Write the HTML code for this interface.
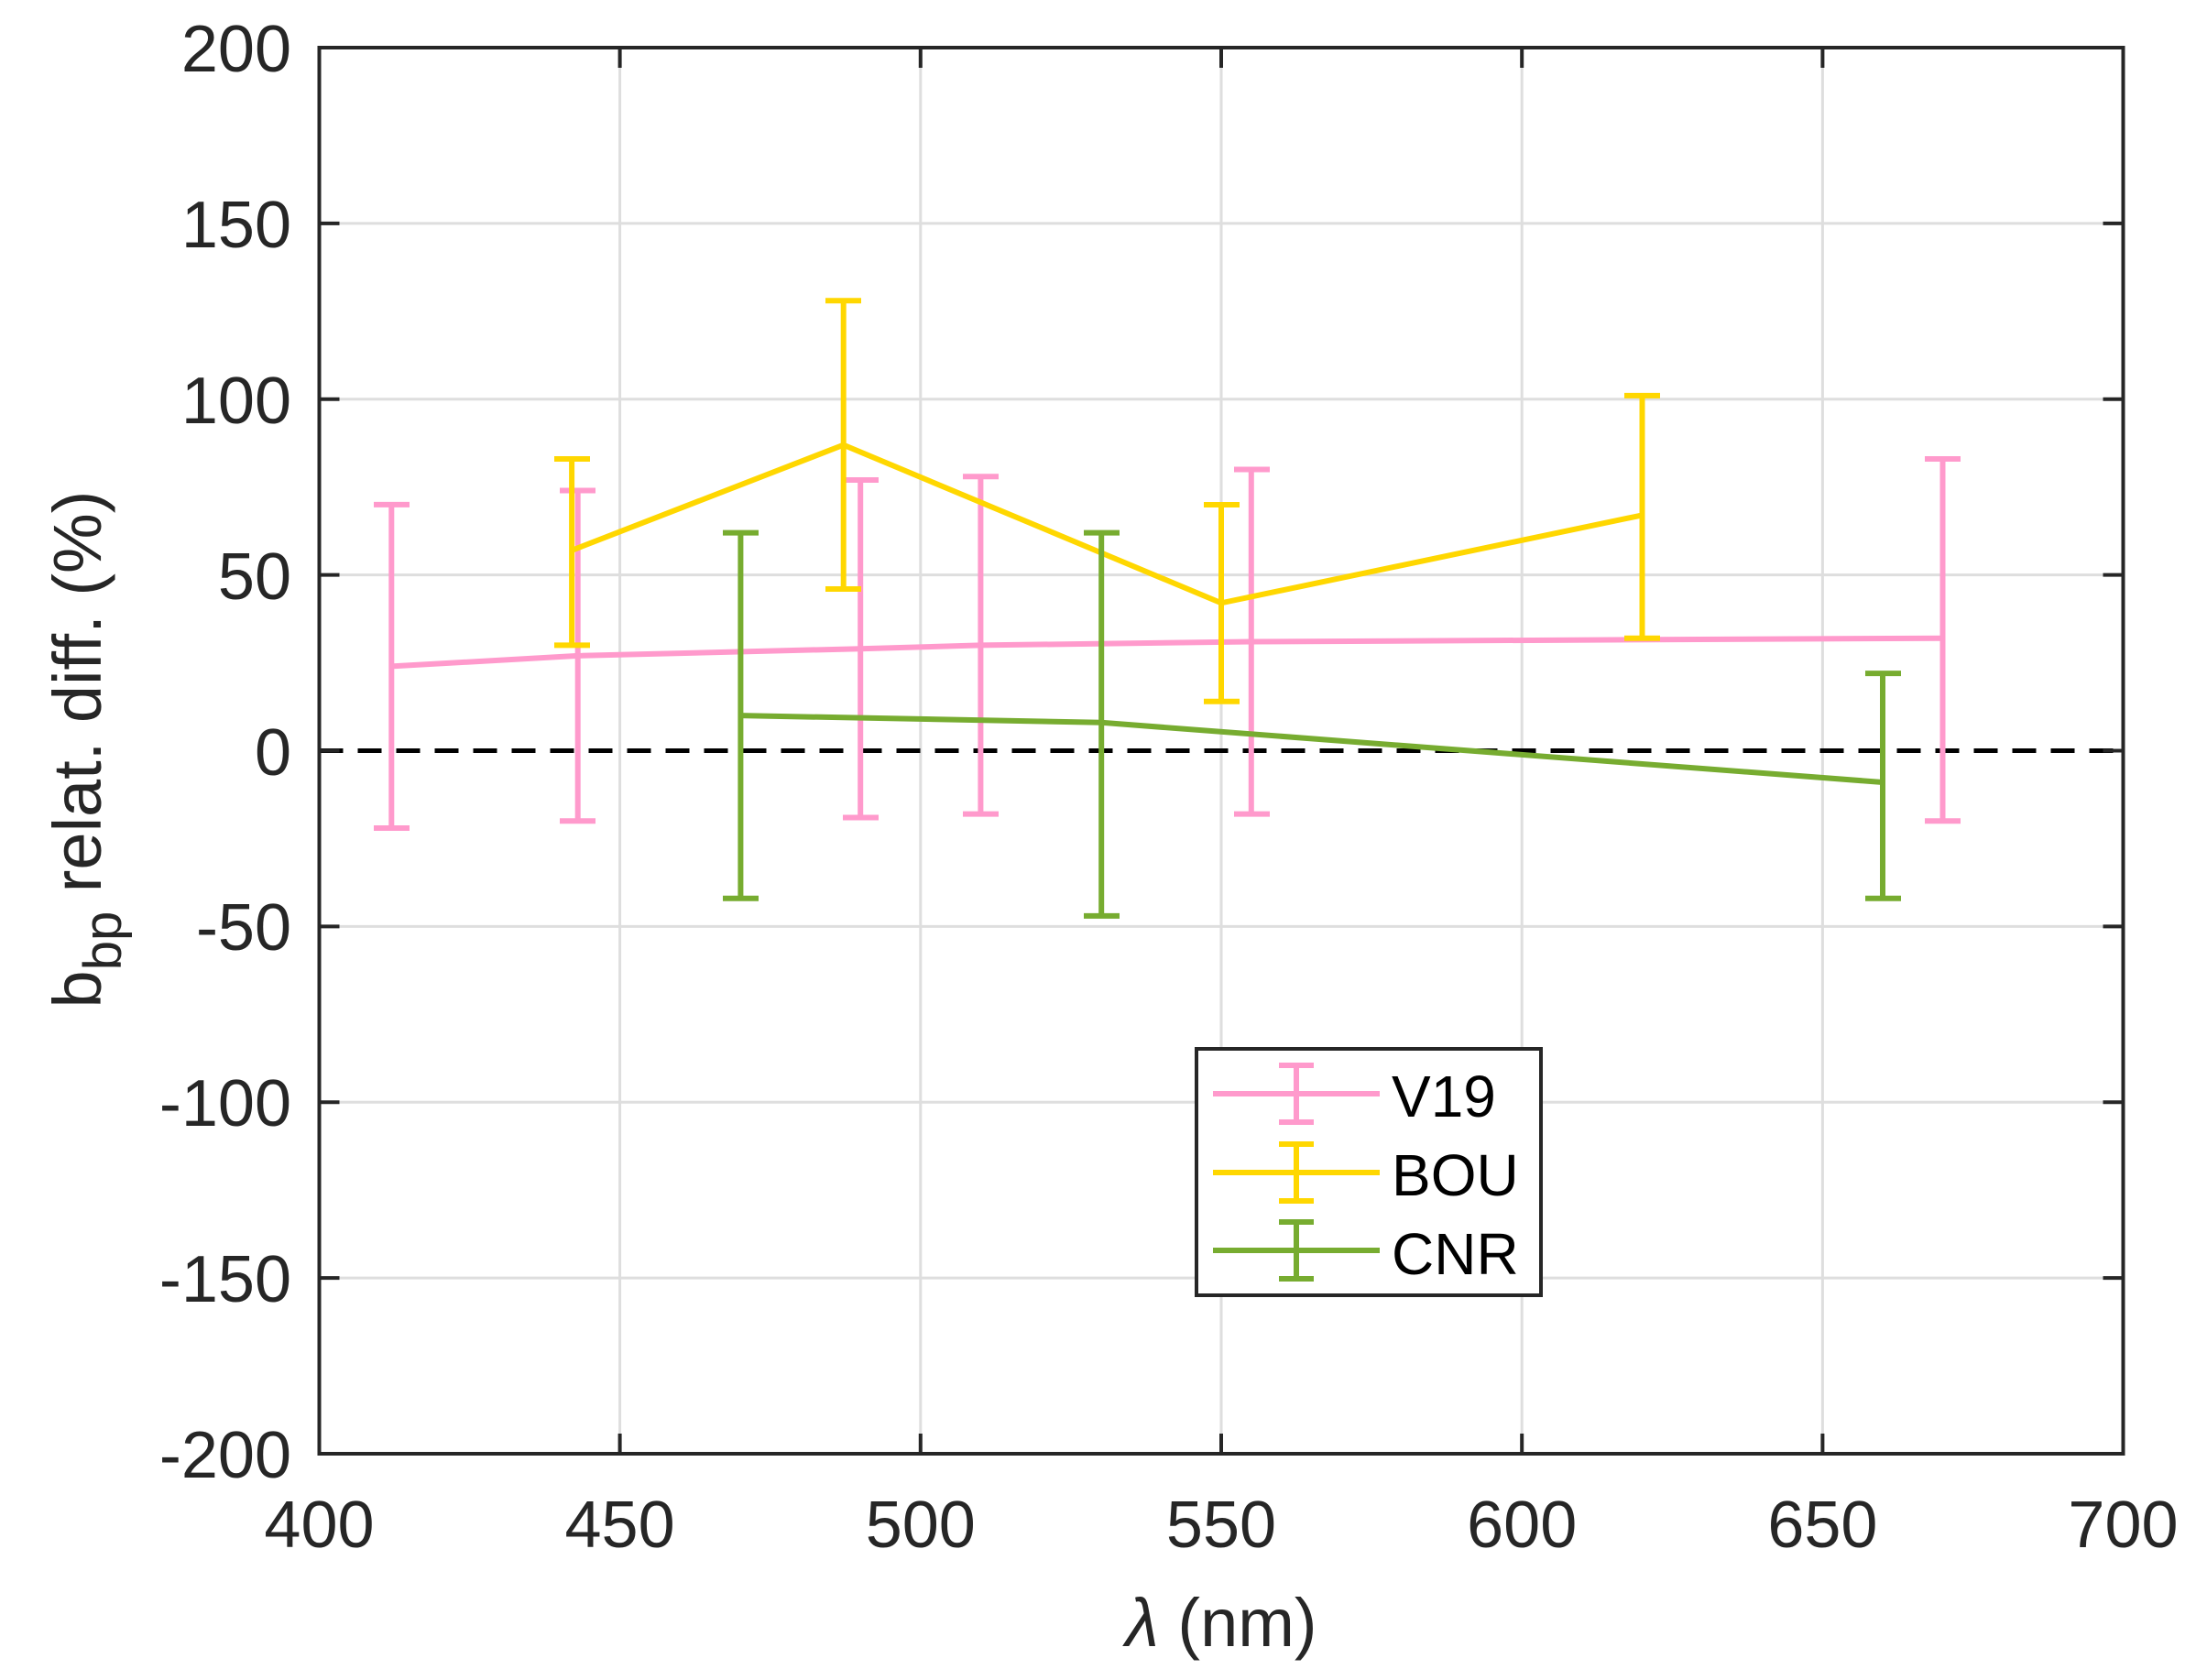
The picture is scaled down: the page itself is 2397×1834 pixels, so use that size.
<!DOCTYPE html>
<html><head><meta charset="utf-8"><style>
html,body{margin:0;padding:0;background:#fff;}
svg{display:block;}
text{font-family:"Liberation Sans",Arial,sans-serif;}
</style></head><body>
<svg width="2397" height="1834" viewBox="0 0 2397 1834" xmlns="http://www.w3.org/2000/svg">
<rect width="2397" height="1834" fill="#fff"/>
<g stroke="#dedede" stroke-width="3">
<line x1="676.6" y1="52" x2="676.6" y2="1587"/>
<line x1="1004.8" y1="52" x2="1004.8" y2="1587"/>
<line x1="1333" y1="52" x2="1333" y2="1587"/>
<line x1="1661.2" y1="52" x2="1661.2" y2="1587"/>
<line x1="1989.4" y1="52" x2="1989.4" y2="1587"/>
<line x1="348.5" y1="243.9" x2="2317.5" y2="243.9"/>
<line x1="348.5" y1="435.8" x2="2317.5" y2="435.8"/>
<line x1="348.5" y1="627.6" x2="2317.5" y2="627.6"/>
<line x1="348.5" y1="1011.4" x2="2317.5" y2="1011.4"/>
<line x1="348.5" y1="1203.3" x2="2317.5" y2="1203.3"/>
<line x1="348.5" y1="1395.1" x2="2317.5" y2="1395.1"/>
</g>
<line x1="348.5" y1="819.5" x2="2317.5" y2="819.5" stroke="#000" stroke-width="5" stroke-dasharray="26,16"/>
<g fill="none" stroke-width="6">
<g stroke="#FF9ACC">
<polyline points="427.3,727.4 630.7,715.9 939.2,708.2 1070.4,704.4 1365.8,700.5 2120.5,696.7"/>
<path d="M427.3,550.9V904M408,550.9h39M408,904h39"/>
<path d="M630.7,535.5V896.3M611,535.5h39M611,896.3h39"/>
<path d="M939.2,524V892.5M920,524h39M920,892.5h39"/>
<path d="M1070.4,520.2V888.6M1051,520.2h39M1051,888.6h39"/>
<path d="M1365.8,512.5V888.6M1347,512.5h39M1347,888.6h39"/>
<path d="M2120.5,501V896.3M2101,501h39M2101,896.3h39"/>
</g>
<g stroke="#FFD700">
<polyline points="624.1,600.8 920.7,485.7 1333,658.3 1792.5,562.4"/>
<path d="M624.1,501V704.4M605,501h39M605,704.4h39"/>
<path d="M920.7,328.3V643M901,328.3h39M901,643h39"/>
<path d="M1333,551V765.8M1314,551h39M1314,765.8h39"/>
<path d="M1792.5,431.9V696.7M1773,431.9h39M1773,696.7h39"/>
</g>
<g stroke="#77AC30">
<polyline points="808.4,781.1 1202.2,788.8 2055,854"/>
<path d="M808.4,581.6V980.7M789,581.6h39M789,980.7h39"/>
<path d="M1202.2,581.6V999.9M1183,581.6h39M1183,999.9h39"/>
<path d="M2055,735.1V980.7M2036,735.1h39M2036,980.7h39"/>
</g>
</g>
<rect x="348.5" y="52" width="1969" height="1535" fill="none" stroke="#262626" stroke-width="4"/>
<g stroke="#262626" stroke-width="4">
<path d="M676.6,1587v-22M1004.8,1587v-22M1333,1587v-22M1661.2,1587v-22M1989.4,1587v-22"/>
<path d="M676.6,52v22M1004.8,52v22M1333,52v22M1661.2,52v22M1989.4,52v22"/>
<path d="M348.5,243.9h22M348.5,435.8h22M348.5,627.6h22M348.5,819.5h22M348.5,1011.4h22M348.5,1203.3h22M348.5,1395.1h22"/>
<path d="M2317.5,243.9h-22M2317.5,435.8h-22M2317.5,627.6h-22M2317.5,819.5h-22M2317.5,1011.4h-22M2317.5,1203.3h-22M2317.5,1395.1h-22"/>
</g>
<g font-size="72" fill="#262626" text-anchor="end">
<text x="318" y="78">200</text>
<text x="318" y="270">150</text>
<text x="318" y="462">100</text>
<text x="318" y="654">50</text>
<text x="318" y="846">0</text>
<text x="318" y="1037">-50</text>
<text x="318" y="1229">-100</text>
<text x="318" y="1421">-150</text>
<text x="318" y="1613">-200</text>
</g>
<g font-size="72" fill="#262626" text-anchor="middle">
<text x="348.5" y="1689">400</text>
<text x="676.6" y="1689">450</text>
<text x="1004.8" y="1689">500</text>
<text x="1333" y="1689">550</text>
<text x="1661.2" y="1689">600</text>
<text x="1989.4" y="1689">650</text>
<text x="2317.5" y="1689">700</text>
<text x="1333" y="1797" font-size="74"><tspan font-style="italic">λ</tspan> (nm)</text>
</g>
<text transform="translate(110,818) rotate(-90)" font-size="74" fill="#262626" text-anchor="middle">b<tspan font-size="58" dy="22">bp</tspan><tspan dy="-22"> relat. diff. (%)</tspan></text>
<rect x="1306" y="1145" width="376" height="269" fill="#fff" stroke="#262626" stroke-width="4"/>
<g stroke-width="6">
<g stroke="#FF9ACC"><path d="M1324,1194h182M1415,1163v62M1396,1163h38M1396,1225h38"/></g>
<g stroke="#FFD700"><path d="M1324,1280h182M1415,1249v62M1396,1249h38M1396,1311h38"/></g>
<g stroke="#77AC30"><path d="M1324,1365h182M1415,1334v62M1396,1334h38M1396,1396h38"/></g>
</g>
<g font-size="64" fill="#000">
<text x="1519" y="1219">V19</text>
<text x="1519" y="1305">BOU</text>
<text x="1519" y="1391">CNR</text>
</g>
</svg>
</body></html>
